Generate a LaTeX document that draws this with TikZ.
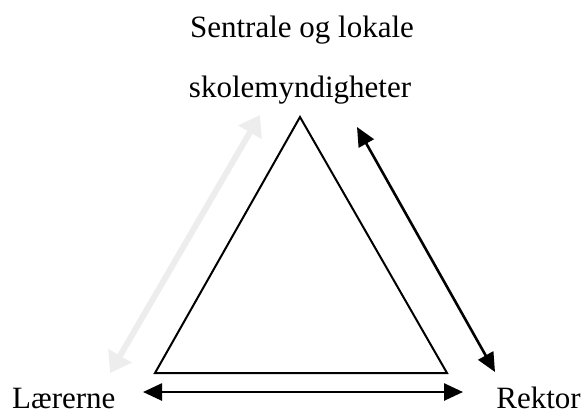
\documentclass[tikz,border=0pt]{standalone}
\usepackage{fontspec}
\setmainfont{Liberation Serif}
\usetikzlibrary{arrows.meta}
\begin{document}
\begin{tikzpicture}[x=1bp,y=-1bp,
  lbl/.style={inner sep=0pt, text depth=0pt, font=\fontsize{31bp}{36bp}\selectfont},
  tri/.style={line width=2bp, line join=miter},
  arr/.style={line width=2.6bp, {Triangle[length=19bp,width=17bp]}-{Triangle[length=19bp,width=17bp]}},
  garr/.style={line width=6bp, draw=black!7, {Triangle[length=20bp,width=26bp]}-{Triangle[length=20bp,width=26bp]}}]
\useasboundingbox (0,0) rectangle (583,414);
% labels
\node[lbl, anchor=base] (t1) at (302,37) {Sentrale og lokale};
\node[lbl, anchor=base] (t2) at (300,97) {skolemyndigheter};
\node[lbl, anchor=base west] (lr) at (12,408) {Lærerne};
\node[lbl, anchor=base east] (rk) at (581,408) {Rektor};
% triangle
\coordinate (A) at (300,117);
\coordinate (B) at (155,373);
\coordinate (C) at (447,373);
\draw[tri] (A) -- (C) -- (B) -- cycle;
% arrows
\coordinate (g1) at (260,115);
\coordinate (g2) at (110,373);
\draw[garr] (g2) -- (g1);
\coordinate (r1) at (357,127);
\coordinate (r2) at (495,372);
\draw[arr] (r1) -- (r2);
\coordinate (b1) at (143,392);
\coordinate (b2) at (463,392);
\draw[arr] (b1) -- (b2);
\end{tikzpicture}
\end{document}
